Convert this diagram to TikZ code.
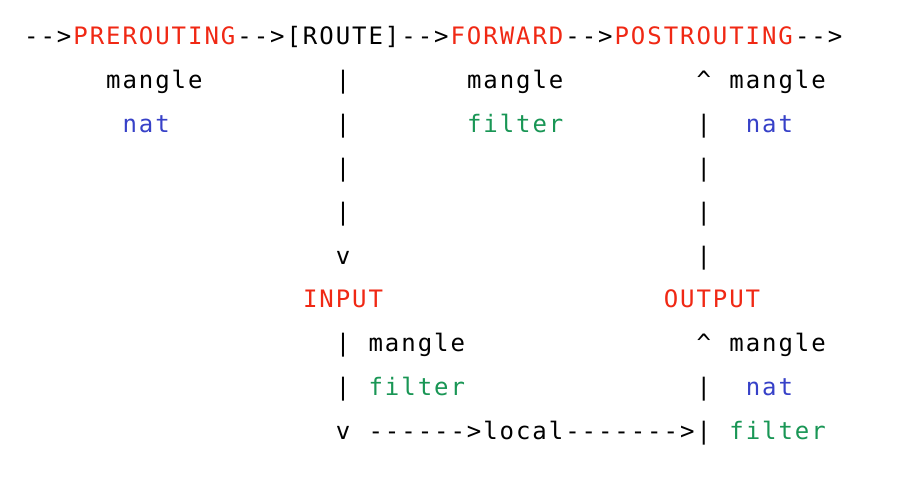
\documentclass[tikz,border=0pt]{standalone}
\usepackage{fontspec}
\setmonofont{DejaVu Sans Mono}[LetterSpace=8.1]
\definecolor{chainred}{RGB}{240,40,20}
\definecolor{natblue}{RGB}{55,65,200}
\definecolor{filtgreen}{RGB}{25,150,85}
\begin{document}
\begin{tikzpicture}[x=1pt,y=-1pt,
  every node/.style={inner sep=0pt,anchor=base west,font=\ttfamily\fontsize{24}{24}\selectfont},
  asc/.style={text=black},
  chain/.style={text=chainred},
  nattab/.style={text=natblue},
  filttab/.style={text=filtgreen}]
\useasboundingbox (0,0) rectangle (898,479);
\fill[white] (0,0) rectangle (898,479);
\def\cw{16.4}
\def\cz{24}
\def\rz{45}
\def\rh{43.8}
% row 1
\node[asc]   (a1) at ({\cz+0*\cw},{\rz+0*\rh}) {-->};
\node[chain] (pre) at ({\cz+3*\cw},{\rz+0*\rh}) {PREROUTING};
\node[asc]   (a2) at ({\cz+13*\cw},{\rz+0*\rh}) {-->};
\node[asc]   (route) at ({\cz+16*\cw},{\rz+0*\rh}) {[ROUTE]};
\node[asc]   (a3) at ({\cz+23*\cw},{\rz+0*\rh}) {-->};
\node[chain] (fwd) at ({\cz+26*\cw},{\rz+0*\rh}) {FORWARD};
\node[asc]   (a4) at ({\cz+33*\cw},{\rz+0*\rh}) {-->};
\node[chain] (post) at ({\cz+36*\cw},{\rz+0*\rh}) {POSTROUTING};
\node[asc]   (a5) at ({\cz+47*\cw},{\rz+0*\rh}) {-->};
% row 2
\node[asc]   (premangle) at ({\cz+5*\cw},{\rz+1*\rh}) {mangle};
\node[asc]   (v1) at ({\cz+19*\cw},{\rz+1*\rh}) {|};
\node[asc]   (fwdmangle) at ({\cz+27*\cw},{\rz+1*\rh}) {mangle};
\node[asc]   (up1) at ({\cz+41*\cw},{\rz+1*\rh}) {\textasciicircum};
\node[asc]   (postmangle) at ({\cz+43*\cw},{\rz+1*\rh}) {mangle};
% row 3
\node[nattab]  (prenat) at ({\cz+6*\cw},{\rz+2*\rh}) {nat};
\node[asc]     (v2) at ({\cz+19*\cw},{\rz+2*\rh}) {|};
\node[filttab] (fwdfilter) at ({\cz+27*\cw},{\rz+2*\rh}) {filter};
\node[asc]     (u2) at ({\cz+41*\cw},{\rz+2*\rh}) {|};
\node[nattab]  (postnat) at ({\cz+44*\cw},{\rz+2*\rh}) {nat};
% rows 4-6
\node[asc] (v3) at ({\cz+19*\cw},{\rz+3*\rh}) {|};
\node[asc] (u3) at ({\cz+41*\cw},{\rz+3*\rh}) {|};
\node[asc] (v4) at ({\cz+19*\cw},{\rz+4*\rh}) {|};
\node[asc] (u4) at ({\cz+41*\cw},{\rz+4*\rh}) {|};
\node[asc] (v5) at ({\cz+19*\cw},{\rz+5*\rh}) {v};
\node[asc] (u5) at ({\cz+41*\cw},{\rz+5*\rh}) {|};
% row 7
\node[chain] (input) at ({\cz+17*\cw},{\rz+6*\rh}) {INPUT};
\node[chain] (output) at ({\cz+39*\cw},{\rz+6*\rh}) {OUTPUT};
% row 8
\node[asc] (i1) at ({\cz+19*\cw},{\rz+7*\rh}) {|};
\node[asc] (inmangle) at ({\cz+21*\cw},{\rz+7*\rh}) {mangle};
\node[asc] (o1) at ({\cz+41*\cw},{\rz+7*\rh}) {\textasciicircum};
\node[asc] (outmangle) at ({\cz+43*\cw},{\rz+7*\rh}) {mangle};
% row 9
\node[asc]     (i2) at ({\cz+19*\cw},{\rz+8*\rh}) {|};
\node[filttab] (infilter) at ({\cz+21*\cw},{\rz+8*\rh}) {filter};
\node[asc]     (o2) at ({\cz+41*\cw},{\rz+8*\rh}) {|};
\node[nattab]  (outnat) at ({\cz+44*\cw},{\rz+8*\rh}) {nat};
% row 10
\node[asc]     (i3) at ({\cz+19*\cw},{\rz+9*\rh}) {v};
\node[asc]     (local) at ({\cz+21*\cw},{\rz+9*\rh}) {------>local------->};
\node[asc]     (o3) at ({\cz+41*\cw},{\rz+9*\rh}) {|};
\node[filttab] (outfilter) at ({\cz+43*\cw},{\rz+9*\rh}) {filter};
\end{tikzpicture}
\end{document}
